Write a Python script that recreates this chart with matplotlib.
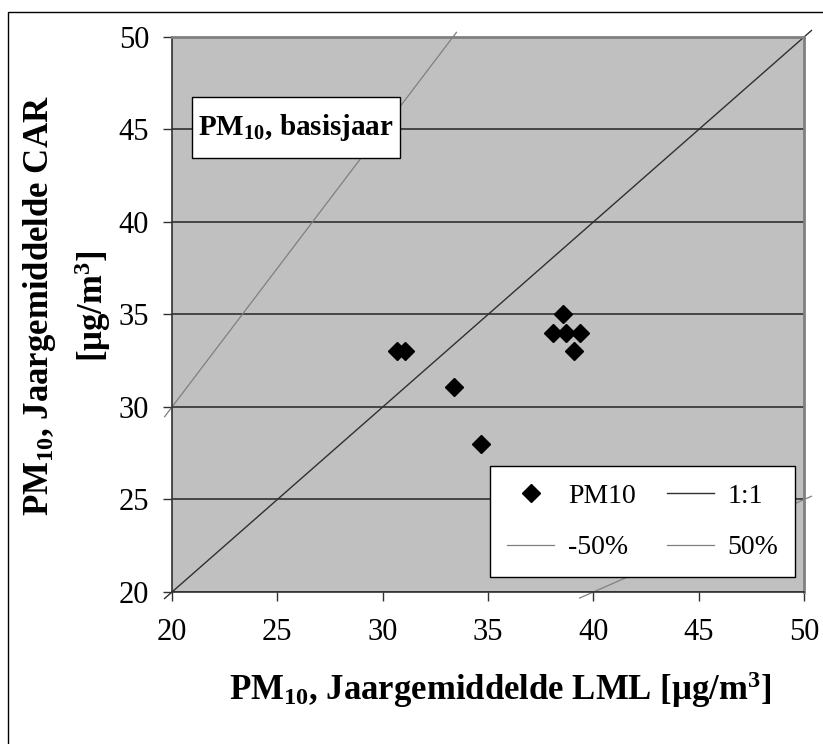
import numpy as np
import matplotlib.pyplot as plt
from matplotlib.patches import Rectangle

plt.rcParams['font.family'] = ['Liberation Serif', 'DejaVu Serif']
plt.rcParams['mathtext.fontset'] = 'custom'
plt.rcParams['mathtext.rm'] = 'Liberation Serif'
plt.rcParams['mathtext.bf'] = 'Liberation Serif:bold'
plt.rcParams['mathtext.default'] = 'bf'

# PM10 jaargemiddelden: LML (x) tegen CAR (y)
lml = [30.7, 31.05, 33.4, 34.65, 38.1, 38.55, 38.7, 39.35, 39.1]
car = [33.0, 33.0, 31.1, 28.0, 34.0, 35.0, 34.0, 34.0, 33.0]

ticks = [20, 25, 30, 35, 40, 45, 50]
lo, hi = 20, 50
ext = 0.35

fig = plt.figure(figsize=(8.23, 7.44), dpi=100)
ax = fig.add_axes([0.209, 0.2043, 0.768, 0.746])
ax.set_facecolor('#c0c0c0')

# referentielijnen, iets buiten het plotvlak doorgetrokken zoals in Excel
x = np.linspace(lo - ext, hi + ext, 400)
for factor, color, lw, label in [(1.0, '#303030', 1.0, '1:1'),
                                 (0.5, '#808080', 0.9, '-50%'),
                                 (1.5, '#808080', 0.9, '50%')]:
    y = factor * x
    keep = (y >= lo - ext) & (y <= hi + ext)
    ax.plot(x[keep], y[keep], color=color, lw=lw, label=label,
            clip_on=False, zorder=2)

ax.plot(lml, car, 'D', color='black', ms=9.5, label='PM10', zorder=3)

ax.set_xlim(lo, hi)
ax.set_ylim(lo, hi)
ax.set_xticks(ticks)
ax.set_yticks(ticks)
ax.tick_params(labelsize=22, length=6.5, width=1, color='#303030')
ax.tick_params(axis='x', pad=12)
ax.tick_params(axis='y', pad=10)
ax.yaxis.grid(True, color='#303030', lw=1.2)
ax.set_axisbelow(True)
for s in ['left', 'bottom']:
    ax.spines[s].set_color('#303030')
    ax.spines[s].set_linewidth(1.2)
for s in ['top', 'right']:
    ax.spines[s].set_color('#808080')
    ax.spines[s].set_linewidth(2)

ax.set_xlabel(r'PM$_{10}$, Jaargemiddelde LML [μg/m$^3$]',
              fontsize=25, fontweight='bold')
ax.xaxis.set_label_coords(0.52, -0.14)
ax.set_ylabel('PM$_{10}$, Jaargemiddelde CAR\n[μg/m$^3$]',
              fontsize=25, fontweight='bold', linespacing=1.45)
ax.yaxis.set_label_coords(-0.094, 0.515)

h, l = ax.get_legend_handles_labels()
order = [l.index(n) for n in ['PM10', '-50%', '1:1', '50%']]
leg = ax.legend([h[i] for i in order], [l[i] for i in order], ncol=2,
                loc='lower right', bbox_to_anchor=(0.986, 0.027),
                borderaxespad=0,
                fontsize=20, frameon=True, fancybox=False, framealpha=1,
                edgecolor='black', handlelength=1.7, columnspacing=1.1,
                labelspacing=0.95, borderpad=0.6, handletextpad=0.5)
leg.get_frame().set_linewidth(1)
leg.set_zorder(5)

# titelkader linksboven
ax.add_patch(Rectangle((0.032, 0.782), 0.328, 0.11, transform=ax.transAxes,
                       fc='white', ec='black', lw=1, zorder=6))
ax.text(0.196, 0.837, 'PM$_{10}$, basisjaar', transform=ax.transAxes,
        fontsize=21, fontweight='bold', va='center', ha='center', zorder=7)

fig.add_artist(Rectangle((8 / 823, -0.1), 1.2, 1 - 12 / 744 + 0.1,
                         transform=fig.transFigure, fill=False,
                         ec='black', lw=1))

fig.savefig('out.png', dpi=100)
